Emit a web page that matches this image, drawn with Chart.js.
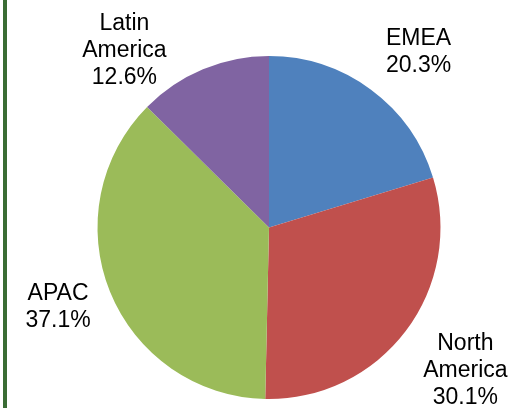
<!DOCTYPE html>
<html lang="en">

<head>
  <meta charset="UTF-8">
  <title>Revenue by Region</title>
  <script src="https://cdn.jsdelivr.net/npm/chart.js@4/dist/chart.umd.min.js"></script>
</head>
<style>
  html, body { margin: 0; padding: 0; background: #fff; }
  #wrap { position: relative; width: 512px; height: 408px; }
  #bar { position: absolute; left: 3px; top: 0; width: 4px; height: 408px; background: #3a6c34; }
  #regionChart { position: absolute; left: 0; top: 0; }
</style>

<body>
  <div id="wrap">
    <canvas id="regionChart" width="512" height="408"></canvas>
    <div id="bar"></div>
  </div>

  <script>
    const regions = [["EMEA"], ["North", "America"], ["APAC"], ["Latin", "America"]];
    const shares = [20.3, 30.1, 37.1, 12.6];
    const sliceColors = ["#4F81BD", "#C0504D", "#9BBB59", "#8064A2"];

    // where each label block sits, in units of the pie radius from its centre
    const labelSpots = [[0.872, -1.02], [1.145, 0.834], [-1.23, 0.462], [-0.843, -1.032]];

    const outsideLabels = {
      id: "outsideLabels",
      afterDatasetsDraw(chart) {
        const ctx = chart.ctx;
        const arcs = chart.getDatasetMeta(0).data;
        ctx.save();
        ctx.font = "23px 'Liberation Sans', Arial, sans-serif";
        ctx.fillStyle = "#000";
        ctx.textAlign = "center";
        ctx.textBaseline = "middle";
        arcs.forEach((arc, i) => {
          const lines = regions[i].concat([shares[i].toFixed(1) + "%"]);
          const cx = arc.x + labelSpots[i][0] * arc.outerRadius;
          const cy = arc.y + labelSpots[i][1] * arc.outerRadius;
          const lh = 27;
          const top = cy - (lines.length - 1) * lh / 2;
          lines.forEach((t, j) => ctx.fillText(t, cx, top + j * lh));
        });
        ctx.restore();
      }
    };

    new Chart("regionChart", {
      type: "pie",
      data: {
        labels: regions.map(r => r.join(" ")),
        datasets: [{
          data: shares,
          backgroundColor: sliceColors,
          borderWidth: 0
        }]
      },
      options: {
        responsive: false,
        animation: false,
        layout: { padding: { top: 56, bottom: 9, left: 97, right: 71 } },
        plugins: {
          legend: { display: false },
          tooltip: { enabled: false }
        }
      },
      plugins: [outsideLabels]
    });
  </script>
</body>

</html>
